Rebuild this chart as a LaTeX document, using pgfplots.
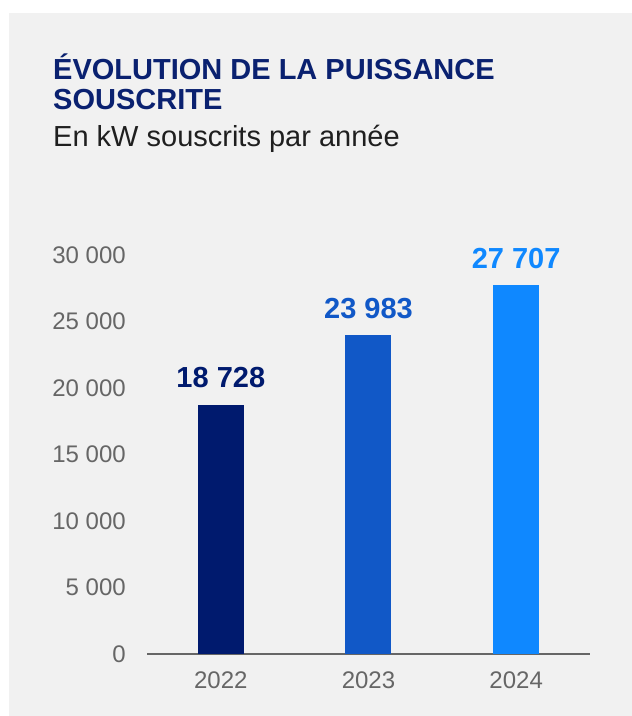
\documentclass[border=0pt]{standalone}
\usepackage{pgfplots}
\pgfplotsset{compat=1.18}
\usepackage{fontspec}
\setmainfont{Liberation Sans}
\definecolor{navy}{HTML}{001A6E}
\definecolor{titlenavy}{HTML}{0A2170}
\definecolor{midblue}{HTML}{1158C7}
\definecolor{lightblue}{HTML}{0F88FF}
\definecolor{panel}{HTML}{F1F1F1}
\definecolor{tickgrey}{HTML}{666666}
\begin{document}
\begin{tikzpicture}[x=1pt,y=1pt]
\useasboundingbox (0,0) rectangle (632,716);
\fill[white] (0,0) rectangle (632,716);
\fill[panel] (9,0) rectangle (632,703);
\node[anchor=base west, inner sep=0pt, text=titlenavy, font=\fontsize{29}{30}\selectfont\bfseries] at (53,636) {ÉVOLUTION DE LA PUISSANCE};
\node[anchor=base west, inner sep=0pt, text=titlenavy, font=\fontsize{29}{30}\selectfont\bfseries] at (53,606) {SOUSCRITE};
\node[anchor=base west, inner sep=0pt, text=black!88, font=\fontsize{29}{30}\selectfont] at (53,569) {En kW souscrits par année};
\begin{axis}[
  at={(147pt,62pt)}, anchor=south west,
  scale only axis, width=443pt, height=399pt,
  xmin=-0.5, xmax=2.5, ymin=0, ymax=30000,
  scaled y ticks=false,
  axis x line*=bottom, axis y line*=left,
  y axis line style={draw=none},
  x axis line style={draw=tickgrey, line width=1.2pt, -},
  major tick length=0pt,
  xtick={0,1,2}, xticklabels={2022,2023,2024},
  ytick={0,5000,10000,15000,20000,25000,30000},
  yticklabels={0,5~000,10~000,15~000,20~000,25~000,30~000},
  tick label style={font=\fontsize{24}{24}\selectfont, text=tickgrey},
  xticklabel style={anchor=north, inner sep=0pt, yshift=-18pt},
  yticklabel style={anchor=east, inner sep=0pt, xshift=-21pt},
  ybar, bar width=46pt, bar shift=0pt,
  clip=false,
  nodes near coords,
  nodes near coords style={anchor=base, inner sep=0pt, yshift=17pt, font=\fontsize{29}{30}\selectfont\bfseries},
  /pgf/number format/.cd, fixed, precision=0, 1000 sep={\ }, assume math mode=true
]
\addplot[fill=navy, draw=none, every node near coord/.append style={text=navy}] coordinates {(0,18728)};
\addplot[fill=midblue, draw=none, every node near coord/.append style={text=midblue}] coordinates {(1,23983)};
\addplot[fill=lightblue, draw=none, every node near coord/.append style={text=lightblue}] coordinates {(2,27707)};
\end{axis}
\end{tikzpicture}
\end{document}
